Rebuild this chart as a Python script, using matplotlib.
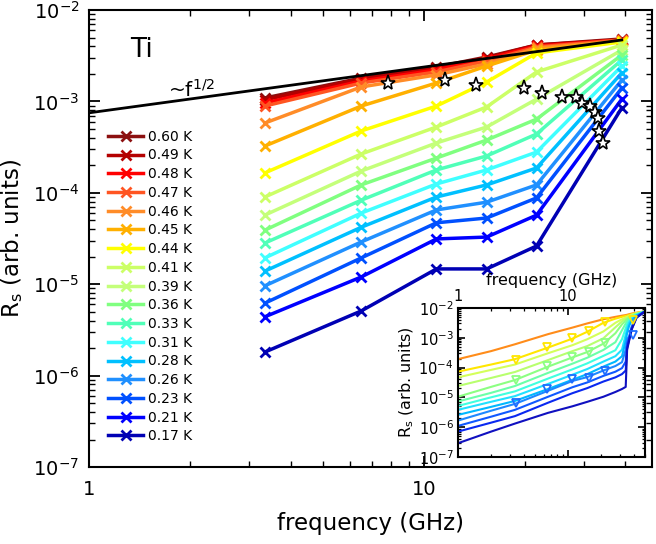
import numpy as np
import matplotlib
matplotlib.use("Agg")
import matplotlib.pyplot as plt
from matplotlib.ticker import LogLocator, NullFormatter

plt.rcParams["font.family"] = ["DejaVu Sans"]
plt.rcParams["mathtext.default"] = "regular"

# measured surface resistance (main panel)
freq_ghz = [3.35, 6.5, 10.9, 15.4, 21.7, 39.0]
temp_labels = ["0.60 K", "0.49 K", "0.48 K", "0.47 K", "0.46 K", "0.45 K",
               "0.44 K", "0.41 K", "0.39 K", "0.36 K", "0.33 K", "0.31 K",
               "0.28 K", "0.26 K", "0.23 K", "0.21 K", "0.17 K"]
rs_060 = [1.09e-3, 1.80e-3, 2.38e-3, 3.06e-3, 4.14e-3, 4.82e-3]
rs_049 = [1.04e-3, 1.76e-3, 2.32e-3, 2.99e-3, 4.14e-3, 4.70e-3]
rs_048 = [9.6e-4, 1.67e-3, 2.21e-3, 2.91e-3, 4.04e-3, 4.70e-3]
rs_047 = [8.9e-4, 1.59e-3, 2.10e-3, 2.77e-3, 3.94e-3, 4.70e-3]
rs_046 = [5.8e-4, 1.44e-3, 1.95e-3, 2.57e-3, 3.84e-3, 4.58e-3]
rs_045 = [3.25e-4, 8.9e-4, 1.59e-3, 2.44e-3, 3.65e-3, 4.58e-3]
rs_044 = [1.65e-4, 4.75e-4, 8.9e-4, 1.63e-3, 3.39e-3, 4.47e-3]
rs_041 = [9.0e-5, 2.66e-4, 5.25e-4, 8.7e-4, 2.10e-3, 4.14e-3]
rs_039 = [5.7e-5, 1.73e-4, 3.51e-4, 5.25e-4, 1.06e-3, 3.65e-3]
rs_036 = [3.9e-5, 1.22e-4, 2.40e-4, 3.78e-4, 6.4e-4, 3.22e-3]
rs_033 = [2.82e-5, 8.3e-5, 1.78e-4, 2.53e-4, 4.40e-4, 2.84e-3]
rs_031 = [1.94e-5, 6.0e-5, 1.25e-4, 1.78e-4, 2.79e-4, 2.44e-3]
rs_028 = [1.39e-5, 4.2e-5, 9.0e-5, 1.22e-4, 1.87e-4, 2.05e-3]
rs_026 = [9.6e-6, 2.90e-5, 6.5e-5, 7.9e-5, 1.22e-4, 1.71e-3]
rs_023 = [6.2e-6, 1.94e-5, 4.7e-5, 5.3e-5, 8.8e-5, 1.40e-3]
rs_021 = [4.4e-6, 1.20e-5, 3.13e-5, 3.28e-5, 5.7e-5, 1.06e-3]
rs_017 = [1.81e-6, 5.1e-6, 1.47e-5, 1.47e-5, 2.62e-5, 8.5e-4]
rs_series = [rs_060, rs_049, rs_048, rs_047, rs_046, rs_045, rs_044, rs_041,
             rs_039, rs_036, rs_033, rs_031, rs_028, rs_026, rs_023, rs_021, rs_017]
temp_colors = ["#8c1010", "#b40000", "#ff0000", "#ff5522", "#ff8c28", "#ffb000",
               "#ffff00", "#ccff66", "#c4ff7a", "#80ff80", "#50ffb8", "#40ffff",
               "#00c0ff", "#2090ff", "#0050ff", "#0000ff", "#0000b4"]

# ~f^1/2 guide line (end points)
sqrt_f = [1.0, 39.0]
sqrt_rs = [7.5e-4, 4.7e-3]

# crossover points (stars)
star_f = [7.8, 11.6, 14.3, 19.9, 22.6, 25.8, 28.5, 29.6, 31.3, 32.4, 33.0, 33.3, 34.2]
star_rs = [1.59e-3, 1.71e-3, 1.51e-3, 1.40e-3, 1.24e-3, 1.12e-3, 1.12e-3,
           9.6e-4, 8.9e-4, 7.7e-4, 6.6e-4, 4.8e-4, 3.5e-4]

# inset: model curves, log10(Rs)
inset_f = [1, 2, 3.3, 6.6, 11, 15, 21, 27, 31, 33.5, 34.5, 36, 38, 42, 50]
inset_log_rs = [
    [-3.72, -3.45, -3.22, -2.88, -2.66, -2.52, -2.38, -2.30, -2.26, -2.24, -2.23, -2.21, -2.19, -2.16, -2.12],
    [-4.14, -3.90, -3.72, -3.33, -3.03, -2.80, -2.50, -2.36, -2.30, -2.27, -2.26, -2.24, -2.21, -2.17, -2.12],
    [-4.33, -4.08, -3.90, -3.52, -3.25, -3.05, -2.79, -2.50, -2.38, -2.32, -2.30, -2.27, -2.23, -2.18, -2.12],
    [-4.62, -4.35, -4.15, -3.75, -3.45, -3.28, -3.02, -2.65, -2.45, -2.36, -2.33, -2.29, -2.25, -2.19, -2.12],
    [-4.98, -4.65, -4.42, -3.97, -3.66, -3.48, -3.20, -2.85, -2.55, -2.42, -2.38, -2.32, -2.27, -2.20, -2.12],
    [-5.14, -4.85, -4.62, -4.18, -3.87, -3.67, -3.41, -3.15, -2.75, -2.52, -2.45, -2.37, -2.30, -2.22, -2.12],
    [-5.29, -5.00, -4.80, -4.37, -4.06, -3.86, -3.61, -3.42, -3.05, -2.68, -2.55, -2.43, -2.34, -2.23, -2.12],
    [-5.42, -5.15, -4.96, -4.55, -4.24, -4.05, -3.80, -3.62, -3.40, -2.90, -2.70, -2.50, -2.38, -2.24, -2.12],
    [-5.59, -5.32, -5.12, -4.72, -4.41, -4.22, -3.97, -3.80, -3.62, -3.10, -2.85, -2.60, -2.42, -2.26, -2.12],
    [-5.78, -5.45, -5.22, -4.78, -4.45, -4.32, -4.10, -3.95, -3.82, -3.40, -3.05, -2.95, -2.62, -2.28, -2.12],
    [-5.96, -5.65, -5.42, -4.98, -4.66, -4.50, -4.28, -4.14, -4.02, -3.80, -3.20, -3.00, -2.66, -2.30, -2.12],
    [-6.15, -5.85, -5.63, -5.18, -4.86, -4.69, -4.47, -4.33, -4.22, -4.10, -3.35, -3.05, -2.70, -2.32, -2.12],
    [-6.54, -6.15, -5.88, -5.52, -5.30, -5.15, -4.98, -4.82, -4.72, -4.65, -3.40, -3.10, -2.72, -2.33, -2.12],
]
inset_colors = ["#ff8c1a", "#ffe600", "#d4ff5a", "#b8ff6e", "#8cff82", "#6cffa8",
                "#40ffe0", "#20e0ff", "#00b8ff", "#1e88ff", "#1058ff", "#0a28f0", "#1010c0"]

# inset: measured points (triangles)
tri_f = [3.35, 6.5, 10.9, 15.4, 21.7, 39.0]
tri_044 = [1.80e-4, 4.9e-4, 9.8e-4, 1.69e-3, 3.39e-3, 3.96e-3]
tri_036 = [3.8e-5, 1.13e-4, 2.27e-4, 3.3e-4, 6.7e-4]
tri_023 = [6.5e-6, 1.9e-5, 4.1e-5, 4.5e-5, 7.7e-5, 1.24e-3]

fig = plt.figure(figsize=(6.56, 5.44), dpi=100)
ax = fig.add_axes([0.1357, 0.1415, 0.8582, 0.8401])

for rs, lab, col in zip(rs_series, temp_labels, temp_colors):
    ax.plot(freq_ghz, rs, color=col, lw=2.5, marker="x", ms=7, mew=2, label=lab)

ax.plot(sqrt_f, sqrt_rs, color="black", lw=2, zorder=5)
ax.plot(star_f, star_rs, ls="none", marker="*", ms=11, mfc="white",
        mec="black", mew=1.2, zorder=6)

ax.set_xscale("log")
ax.set_yscale("log")
ax.set_xlim(1, 48)
ax.set_ylim(1e-7, 1e-2)
ax.xaxis.set_major_locator(LogLocator(base=10, numticks=5))
ax.xaxis.set_minor_locator(LogLocator(base=10, subs=np.arange(2, 10), numticks=20))
ax.yaxis.set_minor_locator(LogLocator(base=10, subs=np.arange(2, 10), numticks=20))
ax.xaxis.set_minor_formatter(NullFormatter())
ax.xaxis.set_major_formatter(plt.FuncFormatter(lambda v, p: f"{v:g}"))
ax.tick_params(which="both", direction="in", top=True, right=True, labelsize=14)
ax.tick_params(which="major", length=8, width=1.3)
ax.tick_params(which="minor", length=4, width=1.0)
ax.tick_params(axis="x", pad=9)
ax.tick_params(axis="y", pad=7)
for sp in ax.spines.values():
    sp.set_linewidth(1.5)

ax.set_xlabel("frequency (GHz)", fontsize=16.5, labelpad=10)
ax.set_ylabel("R$_s$ (arb. units)", fontsize=16.5, labelpad=6)

ax.text(0.073, 0.912, "Ti", transform=ax.transAxes, fontsize=19, va="center")
ax.text(0.14, 0.825, r"~f$^{1/2}$", transform=ax.transAxes, fontsize=14.5, va="center")

ax.legend(loc="upper left", bbox_to_anchor=(0.034, 0.738), frameon=False,
          fontsize=10, numpoints=1, handlelength=2.5, handletextpad=0.4,
          labelspacing=0.34, borderpad=0, borderaxespad=0)

# inset
axi = fig.add_axes([0.698, 0.160, 0.285, 0.274])
for lr, col in zip(inset_log_rs, inset_colors):
    axi.plot(inset_f, 10 ** np.array(lr), color=col, lw=1.5)
axi.plot(tri_f, tri_044, ls="none", marker="v", ms=6, mfc="none", mec="#ffe600", mew=1.3)
axi.plot(tri_f[:5], tri_036, ls="none", marker="v", ms=6, mfc="none", mec="#8cff82", mew=1.3)
axi.plot(tri_f, tri_023, ls="none", marker="v", ms=6, mfc="none", mec="#1e6cff", mew=1.3)

axi.set_xscale("log")
axi.set_yscale("log")
axi.set_xlim(1, 50)
axi.set_ylim(1e-7, 1e-2)
axi.xaxis.set_major_locator(LogLocator(base=10, numticks=5))
axi.xaxis.set_minor_locator(LogLocator(base=10, subs=np.arange(2, 10), numticks=20))
axi.yaxis.set_major_locator(LogLocator(base=10, numticks=10))
axi.yaxis.set_minor_locator(LogLocator(base=10, subs=np.arange(2, 10), numticks=20))
axi.xaxis.set_minor_formatter(NullFormatter())
axi.xaxis.set_major_formatter(plt.FuncFormatter(lambda v, p: f"{v:g}"))
axi.xaxis.set_label_position("top")
axi.tick_params(which="both", direction="in", top=True, bottom=True, right=True,
                labeltop=True, labelbottom=False, labelsize=10.5)
axi.tick_params(which="major", length=5, width=1.2)
axi.tick_params(which="minor", length=2.5, width=0.9)
axi.tick_params(axis="both", pad=3)
for sp in axi.spines.values():
    sp.set_linewidth(1.5)
axi.set_xlabel("frequency (GHz)", fontsize=11.5, labelpad=3)
axi.set_ylabel("R$_s$ (arb. units)", fontsize=11.5, labelpad=2)

fig.savefig("out.png", dpi=100)
